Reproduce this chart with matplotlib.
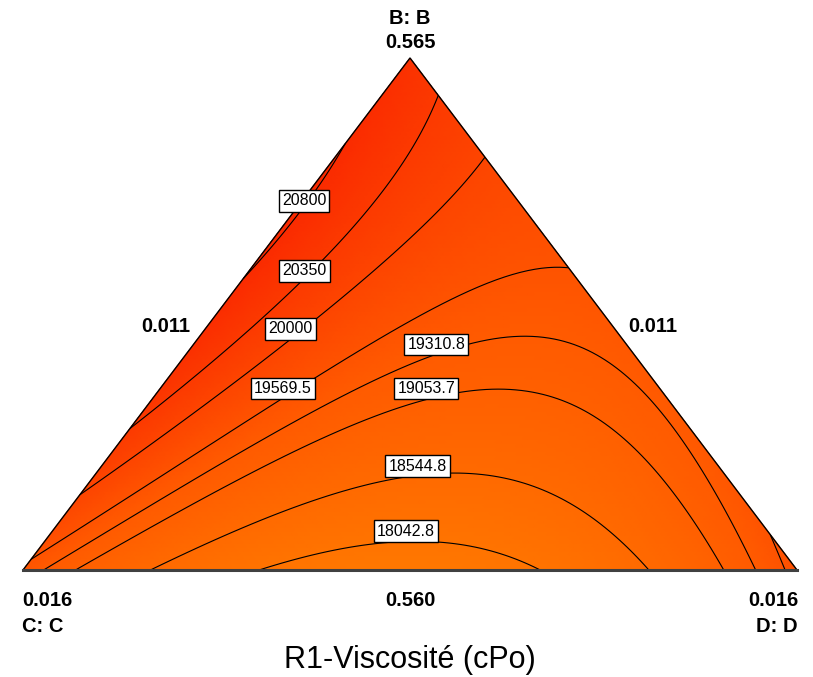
"""
Ternary mixture contour plot: R1-Viscosité (cPo) over components B, C, D.
The surface is a Scheffé special-cubic model in pseudo components.
"""
import numpy as np
import matplotlib
matplotlib.use("Agg")
import matplotlib.pyplot as plt
import matplotlib.tri as mtri
from matplotlib.colors import LinearSegmentedColormap

# ---------------- data ----------------
# model terms (pseudo components: B top, C bottom-left, D bottom-right)
terms = ["B", "C", "D", "BC", "BD", "CD", "BCD"]
coefs = [20600.0, 19490.0, 19680.0, 2767.0, -2702.0, -7100.0, -1500.0]

levels = [18042.8, 18544.8, 19053.7, 19310.8, 19569.5, 20000.0, 20350.0, 20800.0]
level_text = ["18042.8", "18544.8", "19053.7", "19310.8", "19569.5", "20000", "20350", "20800"]

# where each contour label sits, in triangle coords (x across, y = B fraction)
label_x = [0.495, 0.510, 0.521, 0.534, 0.336, 0.346, 0.364, 0.363]
label_y = [0.076, 0.203, 0.354, 0.441, 0.354, 0.471, 0.584, 0.721]

vertex_names = ["B: B", "C: C", "D: D"]
vertex_hi = ["0.565", "0.016", "0.016"]
edge_lo = ["0.560", "0.011", "0.011"]   # bottom, left, right
title = "R1-Viscosité (cPo)"

W, H = 813, 677
FONT = ["Liberation Sans", "DejaVu Sans"]


def viscosity(b, c, d):
    parts = {"B": b, "C": c, "D": d, "BC": b * c, "BD": b * d,
             "CD": c * d, "BCD": b * c * d}
    return sum(k * parts[t] for t, k in zip(terms, coefs))


def px(x, y):
    """pixel position -> figure fraction"""
    return x / W, 1 - y / H


# ---------------- surface ----------------
base = mtri.Triangulation([0.0, 1.0, 0.5], [0.0, 0.0, 1.0], [[0, 1, 2]])
fine = mtri.UniformTriRefiner(base).refine_triangulation(subdiv=7)
b = np.clip(fine.y, 0, 1)
d = np.clip(fine.x - fine.y / 2, 0, 1)
c = np.clip(1 - b - d, 0, 1)
z = viscosity(b, c, d)

cmap = LinearSegmentedColormap.from_list("visc", ["#ff7800", "#ff5a00", "#fa2800"])

fig = plt.figure(figsize=(W / 100, H / 100), dpi=100)
ax = fig.add_axes([23 / W, (H - 570) / H, 774 / W, 512 / H])
ax.set_xlim(0, 1)
ax.set_ylim(0, 1)
ax.axis("off")

ax.tripcolor(fine, z, shading="gouraud", cmap=cmap, vmin=17800, vmax=20900)
cs = ax.tricontour(fine, z, levels=levels, colors="black", linewidths=0.8)
texts = ax.clabel(cs, fmt=dict(zip(cs.levels, level_text)),
                  manual=list(zip(label_x, label_y)), inline=False, fontsize=11.5)
# clabel picks the level; the boxes stay where the reference puts them, upright
for t, lx, ly in zip(texts, label_x, label_y):
    t.set_position((lx, ly))
    t.set_rotation(0)
    t.set_fontfamily(FONT)
    t.set_zorder(5)
    t.set_bbox(dict(boxstyle="square,pad=0.2", fc="white", ec="black", lw=1))

# triangle outline
ax.plot([0, 0.5, 1], [0, 1, 0], color="black", lw=1, clip_on=False)
ax.plot([0, 1], [0, 0], color="#404040", lw=2.2, clip_on=False)

# ---------------- text ----------------
bold = dict(fontsize=14.5, fontweight="bold", family=FONT)
fig.text(*px(410, 19), vertex_names[0], ha="center", va="center", **bold)
fig.text(*px(410, 42), vertex_hi[0], ha="center", va="center", **bold)
fig.text(*px(166, 327), edge_lo[1], ha="center", va="center", **bold)
fig.text(*px(653, 327), edge_lo[2], ha="center", va="center", **bold)
fig.text(*px(22, 600), vertex_hi[1], ha="left", va="center", **bold)
fig.text(*px(410, 600), edge_lo[0], ha="center", va="center", **bold)
fig.text(*px(798, 600), vertex_hi[2], ha="right", va="center", **bold)
fig.text(*px(22, 627), vertex_names[1], ha="left", va="center", **bold)
fig.text(*px(798, 627), vertex_names[2], ha="right", va="center", **bold)
fig.text(*px(410, 660), title, ha="center", va="center", fontsize=22, family=FONT)

fig.savefig("out.png", dpi=100)
